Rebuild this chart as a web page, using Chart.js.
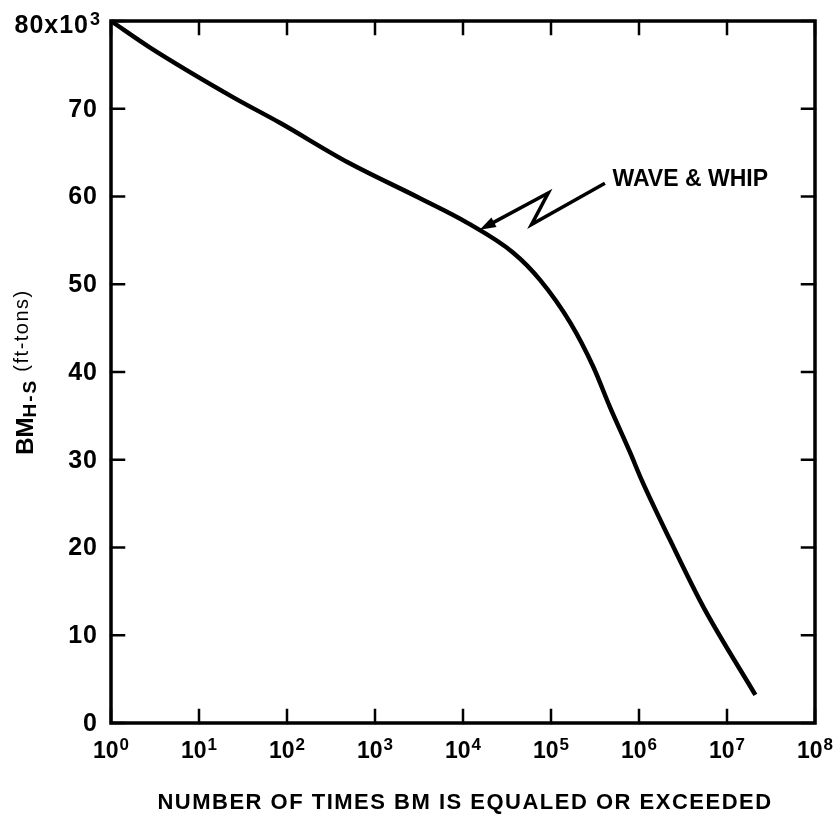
<!DOCTYPE html>
<html>
<head>
<meta charset="utf-8">
<title>Bending moment exceedance</title>
<script src="https://cdn.jsdelivr.net/npm/chart.js@4.4.0/dist/chart.umd.min.js"></script>
<style>
    html, body { margin: 0; padding: 0; background: #fff; }
    #wrap { position: relative; width: 837px; height: 815px; }
</style>
</head>
<body>
<div id="wrap"><canvas id="chart"></canvas></div>
<script>
// number of times BM is equaled or exceeded (x) vs BM H-S in 10^3 ft-tons (y)
var timesExceeded = [1, 2.75, 24.5, 83, 490, 3240, 11200, 37200, 75000,
    166000, 302000, 468000, 794000, 1070000, 2240000, 5400000, 21000000];
var bendingMoment = [80, 77.0, 71.3, 68.4, 63.9, 59.8, 57.0, 53.6, 50.5,
    45.6, 40.6, 36.0, 30.8, 27.7, 20.9, 13.2, 3.2];

var xTickExponents = [0, 1, 2, 3, 4, 5, 6, 7, 8];
var yTickValues = [0, 10, 20, 30, 40, 50, 60, 70, 80];

var annotationText = "WAVE & WHIP";
// zigzag leader, in data units: tip first
var arrowX = [15500, 93000, 60000, 410000];
var arrowY = [56.2, 60.4, 56.8, 61.5];
var labelAt = { x: 500000, y: 61.2 };

var FONT = "'Liberation Sans', Arial, sans-serif";

var points = timesExceeded.map(function (v, i) {
    return { x: v, y: bendingMoment[i] };
});

// frame, inward ticks, labels and titles
var framePlugin = {
    id: "frame",
    afterDraw: function (chart) {
        var ctx = chart.ctx;
        var a = chart.chartArea;
        var xs = chart.scales.x;
        var ys = chart.scales.y;
        var tick = 13;

        ctx.save();
        ctx.strokeStyle = "#000";
        ctx.fillStyle = "#000";
        ctx.lineCap = "square";

        ctx.lineWidth = 3.5;
        ctx.strokeRect(a.left, a.top, a.right - a.left, a.bottom - a.top);

        ctx.lineWidth = 2.5;
        ctx.beginPath();
        xTickExponents.forEach(function (e) {
            var px = xs.getPixelForValue(Math.pow(10, e));
            ctx.moveTo(px, a.bottom);
            ctx.lineTo(px, a.bottom - tick);
            ctx.moveTo(px, a.top);
            ctx.lineTo(px, a.top + tick);
        });
        yTickValues.forEach(function (v) {
            var py = ys.getPixelForValue(v);
            ctx.moveTo(a.left, py);
            ctx.lineTo(a.left + tick, py);
            ctx.moveTo(a.right, py);
            ctx.lineTo(a.right - tick, py);
        });
        ctx.stroke();

        // y tick labels
        ctx.textBaseline = "middle";
        ctx.textAlign = "right";
        ctx.letterSpacing = "1px";
        yTickValues.forEach(function (v) {
            var py = ys.getPixelForValue(v);
            if (v === 80) {
                ctx.font = "bold 18px " + FONT;
                ctx.fillText("3", a.left - 10, py - 1);
                ctx.font = "bold 25px " + FONT;
                ctx.fillText("80x10", a.left - 22, py + 5);
            } else {
                ctx.font = "bold 25px " + FONT;
                ctx.fillText(String(v), a.left - 13, py + 1);
            }
        });
        ctx.letterSpacing = "0px";

        // x tick labels with superscripts
        ctx.textBaseline = "alphabetic";
        ctx.textAlign = "left";
        xTickExponents.forEach(function (e) {
            var px = xs.getPixelForValue(Math.pow(10, e));
            ctx.font = "bold 23px " + FONT;
            var w1 = ctx.measureText("10").width;
            ctx.font = "bold 17px " + FONT;
            var w2 = ctx.measureText(String(e)).width;
            var x0 = px - (w1 + w2 + 1) / 2;
            ctx.font = "bold 23px " + FONT;
            ctx.fillText("10", x0, a.bottom + 35);
            ctx.font = "bold 17px " + FONT;
            ctx.fillText(String(e), x0 + w1 + 1, a.bottom + 27);
        });

        // x axis title
        ctx.font = "bold 22px " + FONT;
        ctx.letterSpacing = "1.5px";
        ctx.textAlign = "center";
        ctx.fillText("NUMBER OF TIMES BM IS EQUALED OR EXCEEDED", (a.left + a.right) / 2 + 2, a.bottom + 86);
        ctx.letterSpacing = "0px";

        // y axis title, rotated, with subscript
        var parts = [
            { t: "BM", f: "bold 24px " + FONT, dy: 0, sp: "0px" },
            { t: "H-S", f: "bold 19px " + FONT, dy: 3, sp: "2px" },
            { t: " (ft-tons)", f: "20px " + FONT, dy: -5, sp: "1.5px" }
        ];
        var total = 0;
        parts.forEach(function (p) {
            ctx.font = p.f;
            ctx.letterSpacing = p.sp;
            p.w = ctx.measureText(p.t).width;
            total += p.w;
        });
        ctx.translate(33, (a.top + a.bottom) / 2);
        ctx.rotate(-Math.PI / 2);
        ctx.textAlign = "left";
        var cx = -total / 2;
        parts.forEach(function (p) {
            ctx.font = p.f;
            ctx.letterSpacing = p.sp;
            ctx.fillText(p.t, cx, p.dy);
            cx += p.w;
        });
        ctx.restore();

        // annotation leader with arrow head
        ctx.save();
        ctx.strokeStyle = "#000";
        ctx.fillStyle = "#000";
        ctx.lineWidth = 3.5;
        ctx.lineJoin = "miter";
        var pts = arrowX.map(function (v, i) {
            return { x: xs.getPixelForValue(v), y: ys.getPixelForValue(arrowY[i]) };
        });
        var ang = Math.atan2(pts[1].y - pts[0].y, pts[1].x - pts[0].x);
        var head = 17;
        ctx.beginPath();
        ctx.moveTo(pts[0].x + Math.cos(ang) * head * 0.8, pts[0].y + Math.sin(ang) * head * 0.8);
        for (var i = 1; i < pts.length; i++) ctx.lineTo(pts[i].x, pts[i].y);
        ctx.stroke();
        ctx.beginPath();
        ctx.moveTo(pts[0].x, pts[0].y);
        ctx.lineTo(pts[0].x + Math.cos(ang + 0.32) * head, pts[0].y + Math.sin(ang + 0.32) * head);
        ctx.lineTo(pts[0].x + Math.cos(ang - 0.32) * head, pts[0].y + Math.sin(ang - 0.32) * head);
        ctx.closePath();
        ctx.fill();

        ctx.font = "bold 23px " + FONT;
        ctx.textAlign = "left";
        ctx.textBaseline = "alphabetic";
        ctx.fillText(annotationText, xs.getPixelForValue(labelAt.x), ys.getPixelForValue(labelAt.y));
        ctx.restore();
    }
};

document.addEventListener("DOMContentLoaded", function () {
    var ctx = document.getElementById("chart").getContext("2d");
    new Chart(ctx, {
        type: "line",
        data: {
            datasets: [{
                data: points,
                borderColor: "#000",
                borderWidth: 4.5,
                pointRadius: 0,
                fill: false,
                cubicInterpolationMode: "monotone",
                clip: false
            }]
        },
        options: {
            responsive: true,
            maintainAspectRatio: false,
            animation: false,
            layout: { padding: { left: 111, right: 22, top: 21, bottom: 92 } },
            scales: {
                x: { type: "logarithmic", min: 1, max: 1e8, display: false },
                y: { type: "linear", min: 0, max: 80, display: false }
            },
            plugins: {
                legend: { display: false },
                tooltip: { enabled: false }
            }
        },
        plugins: [framePlugin]
    });
});
</script>
</body>
</html>
